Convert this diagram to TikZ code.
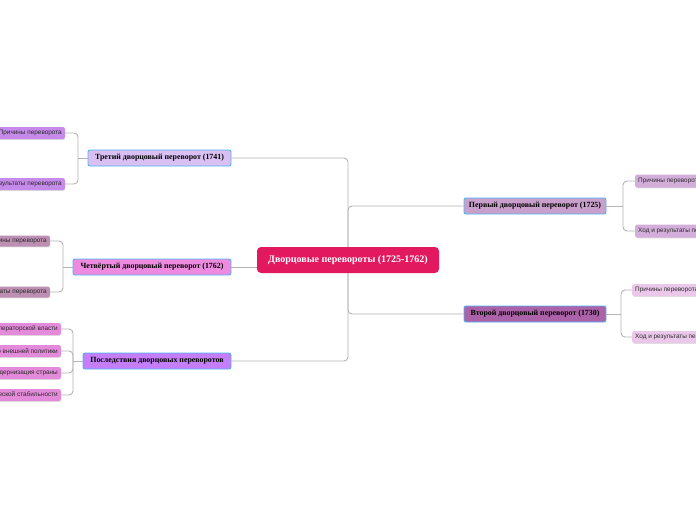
\documentclass[tikz,border=0pt]{standalone}
\usepackage{fontspec}
\setmainfont{Liberation Serif}
\setsansfont{Liberation Sans}
\usetikzlibrary{positioning,shadows}
\definecolor{cCentral}{HTML}{E2195F}
\definecolor{cBorder}{HTML}{4DB6F2}
\definecolor{cT3}{HTML}{D9BFF2}
\definecolor{cT4}{HTML}{EE8BE0}
\definecolor{cPos}{HTML}{C47EF9}
\definecolor{cP1}{HTML}{C9A0CB}
\definecolor{cP2}{HTML}{AC62A8}
\definecolor{cT3c}{HTML}{C58AEA}
\definecolor{cT4c}{HTML}{BC8FB3}
\definecolor{cPosc}{HTML}{E48ADA}
\definecolor{cP1c}{HTML}{D4AEDA}
\definecolor{cP2c}{HTML}{EBC8EA}
\definecolor{cLine}{HTML}{B4B4B4}
\definecolor{cTxt}{HTML}{2A2A2A}
\tikzset{
  central/.style={fill=cCentral, rounded corners=4pt, minimum height=26pt, minimum width=182pt,
    inner sep=0pt, text=white, font=\fontsize{10}{11}\selectfont\bfseries},
  topic/.style={draw=cBorder, line width=0.9pt, rounded corners=2pt, minimum height=16pt,
    inner sep=0pt, text=black, font=\fontsize{7.9}{8.5}\selectfont\bfseries},
  sub/.style={rounded corners=2pt, inner xsep=3pt, inner ysep=0pt, minimum height=12pt,
    text=cTxt, font=\sffamily\fontsize{6.4}{7}\selectfont,
    drop shadow={shadow xshift=0.6pt, shadow yshift=-0.8pt, opacity=0.25}},
  conn/.style={draw=cLine, line width=0.9pt, rounded corners=4pt}
}
\begin{document}
\begin{tikzpicture}[x=1pt,y=-1pt]
\useasboundingbox (0,0) rectangle (696,520);
\clip (0,0) rectangle (696,520);
\fill[white] (0,0) rectangle (696,520);

% central and topics
\node[central] (c) at (348,260) {Дворцовые перевороты (1725-1762)};
\node[topic, fill=cT3, minimum width=143pt] (t3) at (159.5,158) {Третий дворцовый переворот (1741)};
\node[topic, fill=cT4, minimum width=158pt] (t4) at (152,267) {Четвёртый дворцовый переворот (1762)};
\node[topic, fill=cPos, minimum width=148pt] (ps) at (157,361) {Последствия дворцовых переворотов};
\node[topic, fill=cP1, minimum width=142pt] (p1) at (535,206) {Первый дворцовый переворот (1725)};
\node[topic, fill=cP2, minimum width=142pt] (p2) at (535,314) {Второй дворцовый переворот (1730)};

% sub nodes
\node[sub, fill=cT3c, anchor=east] (t3a) at (65,133) {Причины переворота};
\node[sub, fill=cT3c, anchor=east] (t3b) at (65,184) {Ход и результаты переворота};
\node[sub, fill=cT4c, anchor=east, minimum height=11pt] (t4a) at (50,241) {Причины переворота};
\node[sub, fill=cT4c, anchor=east, minimum height=11pt] (t4b) at (50,292) {Ход и результаты переворота};
\node[sub, fill=cPosc, anchor=east] (psa) at (61,329) {Ослабление императорской власти};
\node[sub, fill=cPosc, anchor=east] (psb) at (61,351) {Изменения во внешней политики};
\node[sub, fill=cPosc, anchor=east] (psc) at (61,373) {Модернизация страны};
\node[sub, fill=cPosc, anchor=east] (psd) at (61,395) {Отсутствие политической стабильности};
\node[sub, fill=cP1c, anchor=west, minimum height=13pt] (p1a) at (635,181) {Причины переворота};
\node[sub, fill=cP1c, anchor=west, minimum height=13pt] (p1b) at (635,231) {Ход и результаты переворота};
\node[sub, fill=cP2c, anchor=west] (p2a) at (632,290) {Причины переворота};
\node[sub, fill=cP2c, anchor=west] (p2b) at (632,337) {Ход и результаты переворота};

% junction coordinates
\coordinate (j3) at (78,158);
\coordinate (j4) at (63,267);
\coordinate (jp) at (73,361);
\coordinate (j1) at (623,206);
\coordinate (j2) at (621,314);

% connectors
\draw[conn] (c.north) |- (t3.east);
\draw[conn] (c.south) |- (ps.east);
\draw[conn] (c.north) |- (p1.west);
\draw[conn] (c.south) |- (p2.west);
\draw[conn] (t4.east) -- (t4.east -| c.west);

\draw[conn] (t3.west) -- (j3);
\draw[conn] (j3) |- (t3a.east);
\draw[conn] (j3) |- (t3b.east);
\draw[conn] (t4.west) -- (j4);
\draw[conn] (j4) |- (t4a.east);
\draw[conn] (j4) |- (t4b.east);
\draw[conn] (ps.west) -- (jp);
\draw[conn] (jp) |- (psa.east);
\draw[conn] (jp) |- (psb.east);
\draw[conn] (jp) |- (psc.east);
\draw[conn] (jp) |- (psd.east);
\draw[conn] (p1.east) -- (j1);
\draw[conn] (j1) |- (p1a.west);
\draw[conn] (j1) |- (p1b.west);
\draw[conn] (p2.east) -- (j2);
\draw[conn] (j2) |- (p2a.west);
\draw[conn] (j2) |- (p2b.west);
\end{tikzpicture}
\end{document}
